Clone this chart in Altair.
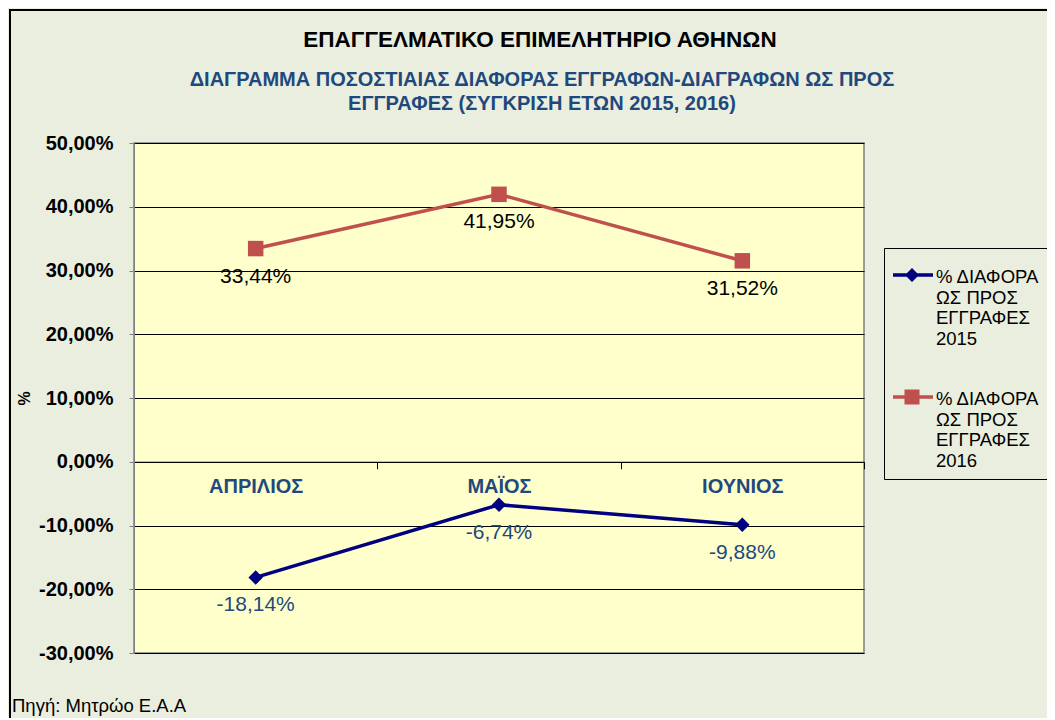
import altair as alt
import pandas as pd

MONTHS = ["ΑΠΡΙΛΙΟΣ", "ΜΑΪΟΣ", "ΙΟΥΝΙΟΣ"]
SERIES = [
    "% ΔΙΑΦΟΡΑ\nΩΣ ΠΡΟΣ\nΕΓΓΡΑΦΕΣ\n2015",
    "% ΔΙΑΦΟΡΑ\nΩΣ ΠΡΟΣ\nΕΓΓΡΑΦΕΣ\n2016",
]
VALUES_2015 = [-18.14, -6.74, -9.88]
VALUES_2016 = [33.44, 41.95, 31.52]
Y_TICKS = [-30, -20, -10, 0, 10, 20, 30, 40, 50]
TITLE = "ΕΠΑΓΓΕΛΜΑΤΙΚΟ ΕΠΙΜΕΛΗΤΗΡΙΟ ΑΘΗΝΩΝ"
SUBTITLE = [
    "ΔΙΑΓΡΑΜΜΑ ΠΟΣΟΣΤΙΑΙΑΣ ΔΙΑΦΟΡΑΣ ΕΓΓΡΑΦΩΝ-ΔΙΑΓΡΑΦΩΝ ΩΣ ΠΡΟΣ",
    "ΕΓΓΡΑΦΕΣ (ΣΥΓΚΡΙΣΗ ΕΤΩΝ 2015, 2016)",
]
SOURCE = "Πηγή: Μητρώο Ε.Α.Α"

LINE_COLORS = ["#000080", "#C0504D"]
LABEL_COLORS = ["#1F497D", "#000000"]
MARKERS = ["diamond", "square"]
MARKER_SIZES = [210, 240]
BG = "#EAEEDF"
PLOT_BG = "#FFFFCC"
BLUE_TEXT = "#1F497D"
FONT = "Liberation Sans"


def legend_path(marker, dy_px, unit=20.0):
    """Line + marker legend symbol (path in symbol units, 1 unit = `unit` px)."""
    cy = dy_px / unit
    t = 1.75 / unit
    line = f"M-1,{cy - t:.4f}L1,{cy - t:.4f}L1,{cy + t:.4f}L-1,{cy + t:.4f}Z"
    cx = -0.05
    if marker == "diamond":
        r = 7.0 / unit
        mk = (f"M{cx:.4f},{cy - r:.4f}L{cx + r:.4f},{cy:.4f}"
              f"L{cx:.4f},{cy + r:.4f}L{cx - r:.4f},{cy:.4f}Z")
    else:
        r = 7.5 / unit
        mk = (f"M{cx - r:.4f},{cy - r:.4f}L{cx + r:.4f},{cy - r:.4f}"
              f"L{cx + r:.4f},{cy + r:.4f}L{cx - r:.4f},{cy + r:.4f}Z")
    return line + mk


LEG_PATHS = [legend_path(m, -2.0) for m in MARKERS]

rows = []
for m, v in zip(MONTHS, VALUES_2015):
    rows.append({"month": m, "series": SERIES[0], "value": v})
for m, v in zip(MONTHS, VALUES_2016):
    rows.append({"month": m, "series": SERIES[1], "value": v})
df = pd.DataFrame(rows)

W, H = 730, 510

x_enc = alt.X(
    "month:N",
    sort=MONTHS,
    scale=alt.Scale(type="band", paddingInner=0, paddingOuter=0),
    axis=alt.Axis(
        title=None, orient="bottom", offset=-191.25, labelAngle=0,
        labelFont=FONT, labelFontSize=20, labelFontWeight="bold",
        labelColor=BLUE_TEXT, labelPadding=8, tickBand="extent",
        tickSize=7, tickColor="black", domainColor="black", grid=False,
    ),
)
y_enc = alt.Y(
    "value:Q",
    scale=alt.Scale(domain=[-30, 50], nice=False, zero=False),
    axis=alt.Axis(
        values=Y_TICKS, title="%", titleFont=FONT, titleFontSize=16,
        titleFontWeight="bold", titleColor="black", titlePadding=6,
        labelExpr="replace(replace(format(datum.value, '.2f'), '.', ','), '−', '-') + '%'",
        labelFont=FONT, labelFontSize=20, labelFontWeight="bold",
        labelColor="black", labelPadding=16, tickSize=5, tickColor="#808080",
        domainColor="#808080", grid=True, gridColor="black", gridWidth=1,
    ),
)

base = alt.Chart(df)

frame = alt.Chart(alt.Data(values=[{"k": 1}])).mark_rect(
    fill="transparent", stroke="black", strokeWidth=2
).encode(
    x=alt.value(-124), x2=alt.value(966), y=alt.value(-133), y2=alt.value(700)
)

title_mark = alt.Chart(alt.Data(values=[{"k": 1}])).mark_text(
    text=TITLE, align="center", baseline="middle", font=FONT, fontSize=22.5,
    fontWeight="bold", color="black"
).encode(x=alt.value(406), y=alt.value(-103))

subtitle_mark = alt.Chart(alt.Data(values=[{"k": 1}])).mark_text(
    text=SUBTITLE, align="center", baseline="middle", font=FONT, fontSize=20,
    fontWeight="bold", color=BLUE_TEXT, lineHeight=24
).encode(x=alt.value(408), y=alt.value(-63))

leg = alt.Legend(
    title=None, orient="none", legendX=750, legendY=105,
    labelExpr="split(datum.label, '\\n')", labelFont=FONT, labelFontSize=18.5,
    labelColor="black", labelOffset=3, labelLimit=300,
    symbolSize=1600, symbolStrokeWidth=0, symbolOpacity=1, padding=9, rowPadding=31,
    strokeColor="black", fillColor=BG,
)

layers = [frame, title_mark, subtitle_mark]
for i, s in enumerate(SERIES):
    sub = base.transform_filter(alt.datum.series == s)
    layers.append(
        sub.mark_line(strokeWidth=3.5, color=LINE_COLORS[i]).encode(x=x_enc, y=y_enc)
    )
for i, s in enumerate(SERIES):
    sub = base.transform_filter(alt.datum.series == s)
    layers.append(
        sub.mark_point(shape=MARKERS[i], filled=True, size=MARKER_SIZES[i],
                       opacity=1, color=LINE_COLORS[i]).encode(x=x_enc, y=y_enc)
    )
    layers.append(
        sub.transform_calculate(
            lbl="replace(replace(format(datum.value, '.2f'), '.', ','), '−', '-') + '%'"
        ).mark_text(dy=28, font=FONT, fontSize=21, color=LABEL_COLORS[i]).encode(
            x=x_enc, y=y_enc, text="lbl:N"
        )
    )

# invisible layer that only carries the legend (line + marker symbols)
legend_layer = base.mark_point(filled=True, opacity=0).encode(
    x=x_enc, y=y_enc,
    color=alt.Color("series:N", scale=alt.Scale(domain=SERIES, range=LINE_COLORS), legend=leg),
    shape=alt.Shape("series:N", scale=alt.Scale(domain=SERIES, range=LEG_PATHS), legend=None),
)
layers.append(legend_layer)

source = alt.Chart(alt.Data(values=[{"t": SOURCE}])).mark_text(
    align="left", baseline="middle", font=FONT, fontSize=18.5, color="black"
).encode(x=alt.value(-122), y=alt.value(563), text="t:N")
layers.append(source)

chart = alt.layer(*layers).properties(
    width=W, height=H,
    autosize=alt.AutoSizeParams(type="none"),
    padding={"left": 126, "top": 135, "right": 183, "bottom": 65},
    background=BG,
).configure_view(fill=PLOT_BG, stroke="#808080", strokeWidth=1.5)

chart.save("out.html", embed_options={"renderer": "svg", "actions": False})
